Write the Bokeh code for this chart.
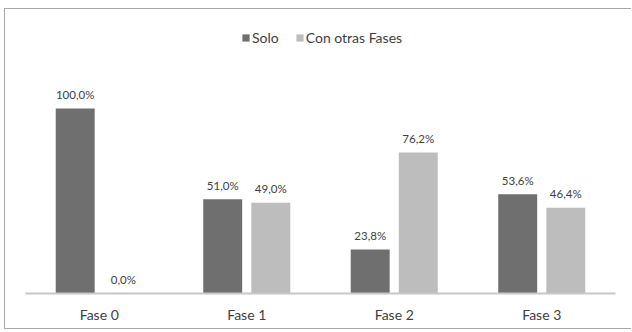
from bokeh.plotting import figure
from bokeh.models import ColumnDataSource, FactorRange, Range1d, Legend, LegendItem
from bokeh.transform import dodge
from bokeh.core.properties import value
from bokeh.embed import file_html
from bokeh.resources import INLINE

# Share of cases per phase: alone vs. combined with other phases
fases = ["Fase 0", "Fase 1", "Fase 2", "Fase 3"]
solo = [100.0, 51.0, 23.8, 53.6]
con_otras = [0.0, 49.0, 76.2, 46.4]
series_names = ["Solo", "Con otras Fases"]
series_colors = ["#6f6f6f", "#bdbdbd"]


def pct(v):
    return f"{v:.1f}".replace(".", ",") + "%"


source = ColumnDataSource(data=dict(
    fase=fases,
    solo=solo,
    con=con_otras,
    solo_lbl=[pct(v) for v in solo],
    con_lbl=[pct(v) for v in con_otras],
))

FONT = "Lato"
TEXT_COLOR = "#404040"

p = figure(
    x_range=FactorRange(*fases, range_padding=0.0),
    y_range=Range1d(0, 145.4),
    width=627, height=321,
    output_backend="svg", toolbar_location=None,
    min_border_left=20, min_border_right=17,
    min_border_top=15, min_border_bottom=37,
)
p.styles = {
    "margin-left": "4px",
    "margin-top": "8px",
    "border-left": "1px solid #a8a8a8",
    "border-top": "1px solid #a8a8a8",
    "border-bottom": "1px solid #a8a8a8",
}

bw = 0.264
off = 0.163
r_solo = p.vbar(x=dodge("fase", -off, range=p.x_range), top="solo", width=bw,
                source=source, fill_color=series_colors[0], line_color=None)
r_con = p.vbar(x=dodge("fase", off, range=p.x_range), top="con", width=bw,
               source=source, fill_color=series_colors[1], line_color=None)

lbl_kw = dict(text_font=value(FONT), text_font_size="11.5px", text_color=TEXT_COLOR,
              text_align="center", text_baseline="middle", y_offset=-14, source=source)
p.text(x=dodge("fase", -off, range=p.x_range), y="solo", text="solo_lbl", **lbl_kw)
p.text(x=dodge("fase", off, range=p.x_range), y="con", text="con_lbl", **lbl_kw)

legend = Legend(
    items=[LegendItem(label=series_names[0], renderers=[r_solo]),
           LegendItem(label=series_names[1], renderers=[r_con])],
    orientation="horizontal", location=(216, 247),
    glyph_width=9, glyph_height=9, label_standoff=2, spacing=16,
    padding=0, margin=0, border_line_color=None, background_fill_alpha=0,
    label_text_font=FONT, label_text_font_size="14px", label_text_color=TEXT_COLOR,
    label_height=14,
)
p.add_layout(legend)

p.yaxis.visible = False
p.xgrid.grid_line_color = None
p.ygrid.grid_line_color = None
p.outline_line_color = None

xa = p.xaxis[0]
xa.axis_line_color = "#c8c8c8"
xa.axis_line_width = 2
xa.major_tick_line_color = None
xa.minor_tick_line_color = None
xa.major_label_text_font = FONT
xa.major_label_text_font_size = "14px"
xa.major_label_text_color = TEXT_COLOR
xa.major_label_standoff = 6

open("out.html", "w").write(file_html(p, INLINE))
